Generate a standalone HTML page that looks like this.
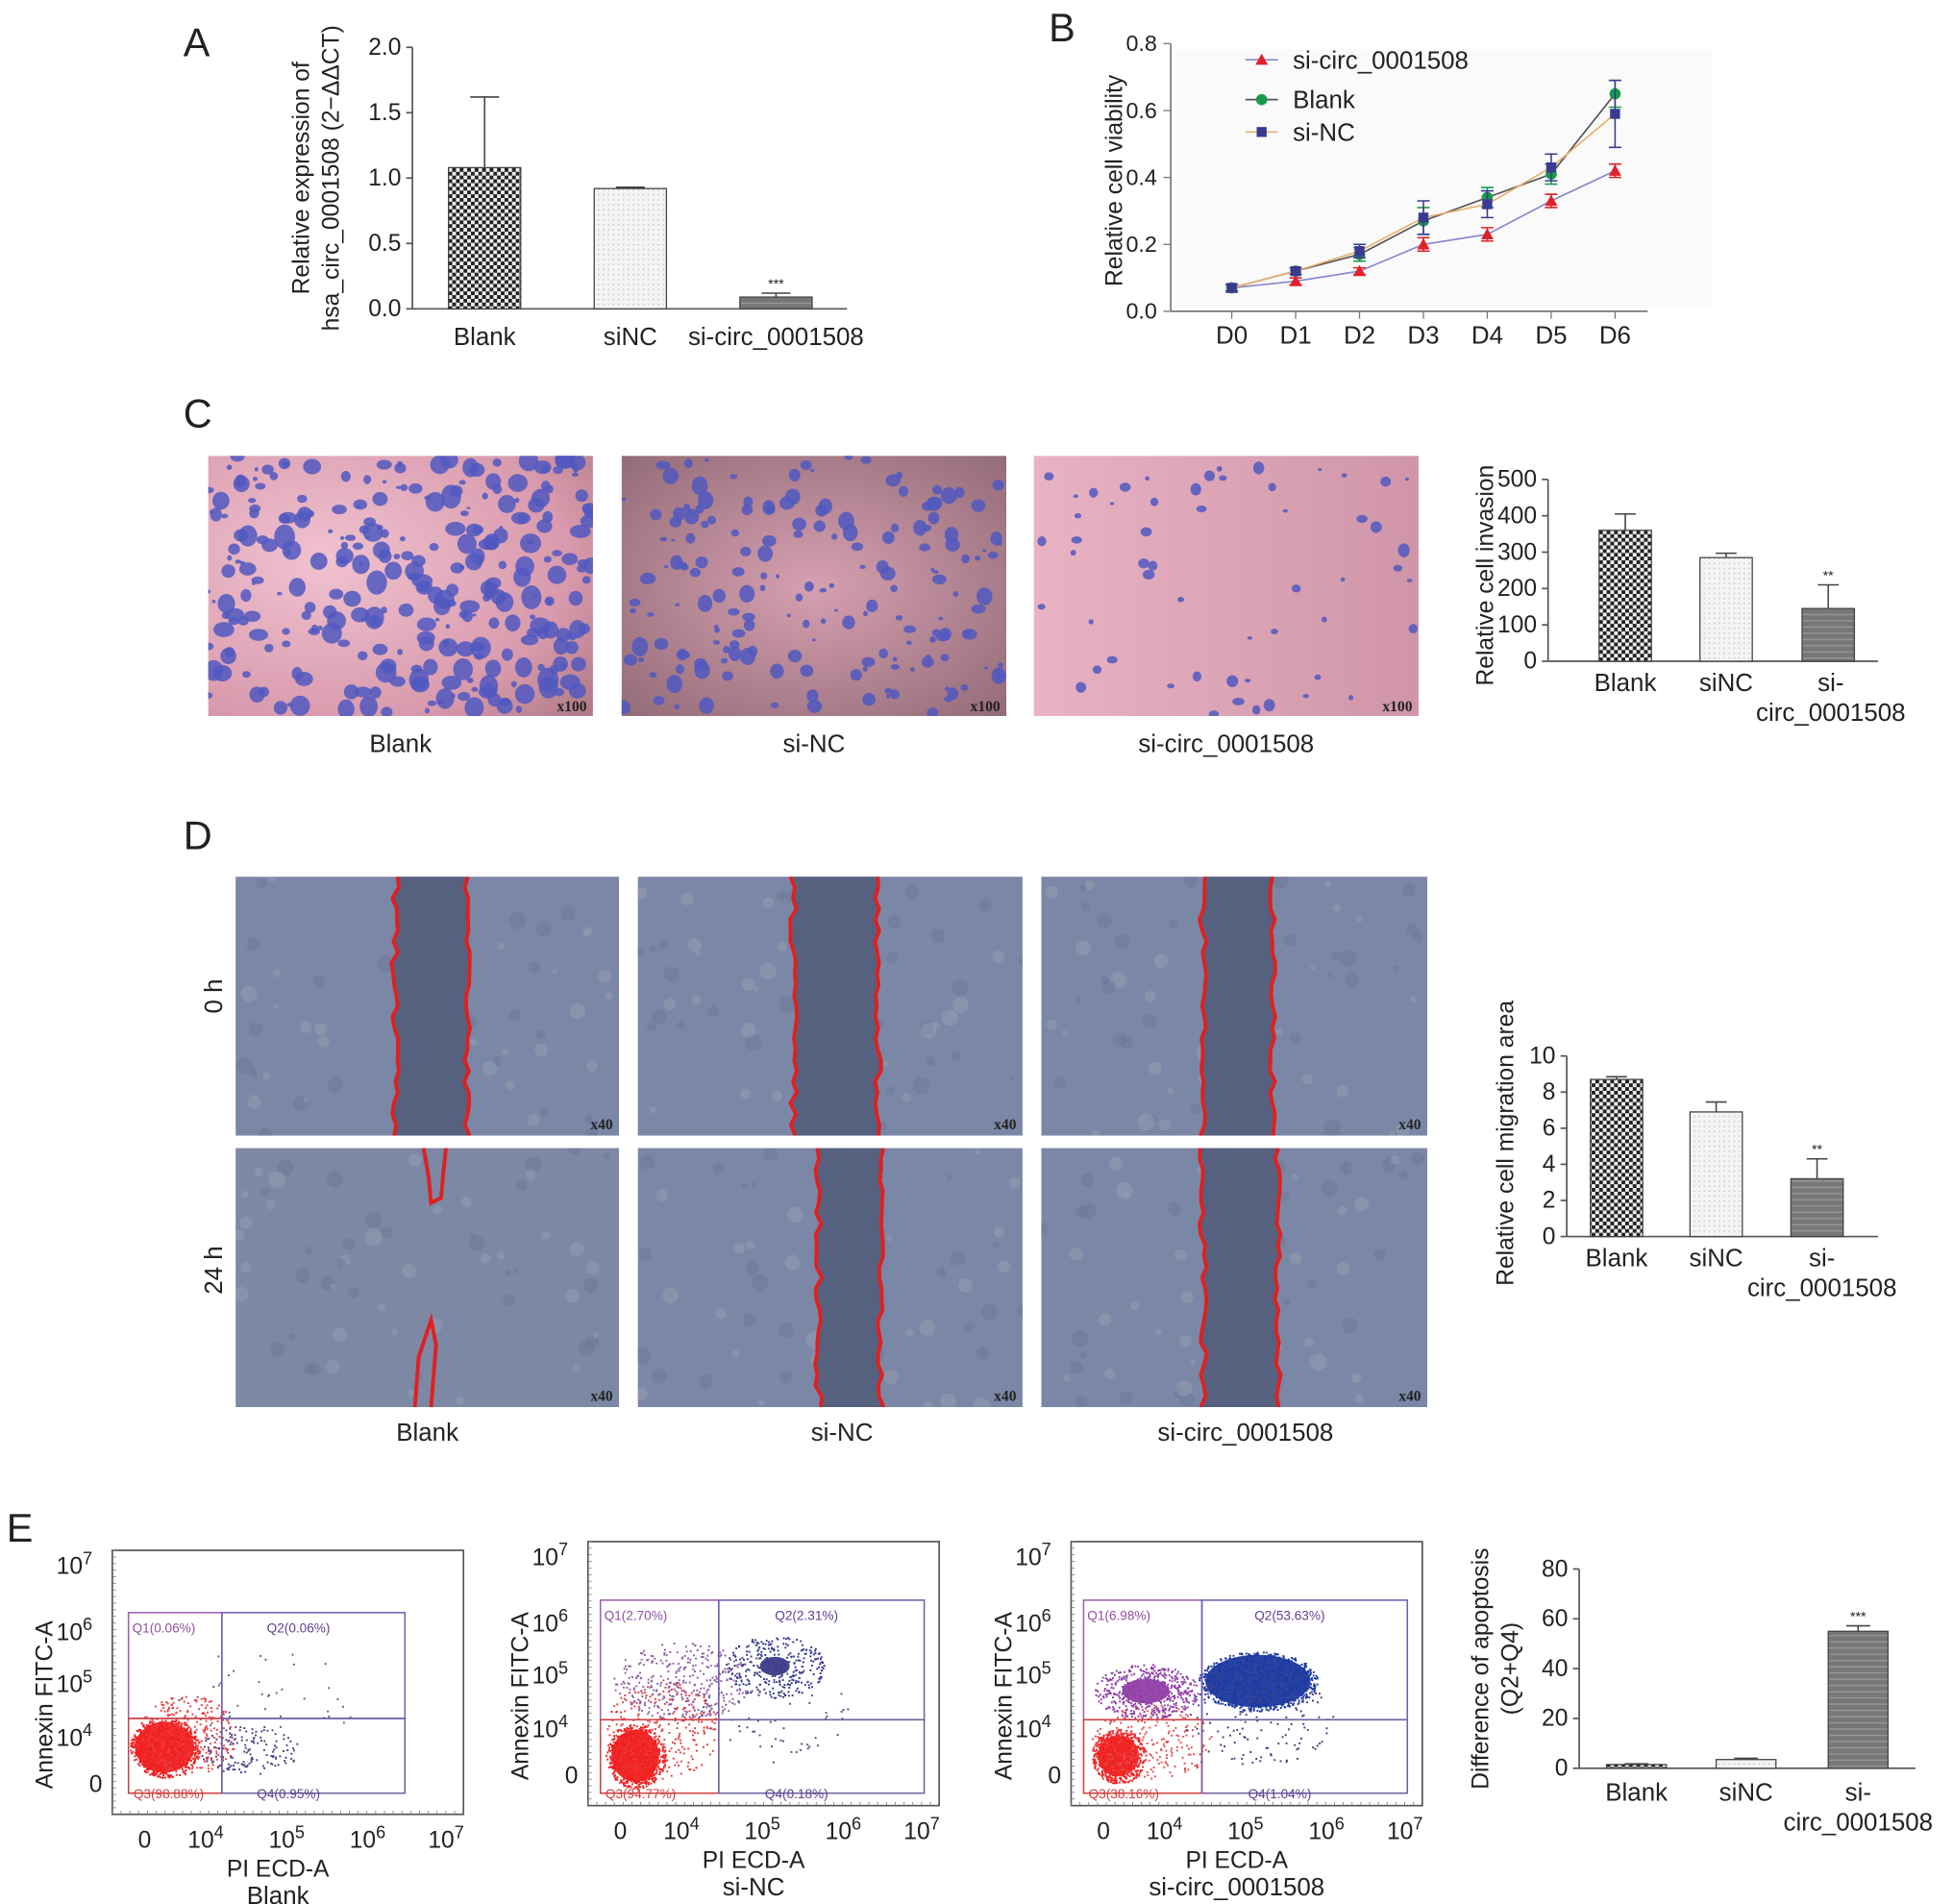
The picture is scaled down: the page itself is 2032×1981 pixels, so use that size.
<!DOCTYPE html>
<html><head><meta charset="utf-8"><style>
html,body{margin:0;padding:0;background:#fff}
svg{display:block}
text{font-family:"Liberation Sans",Arial,sans-serif;fill:#222}
</style></head><body>
<svg id="fig" xmlns="http://www.w3.org/2000/svg" width="2032" height="1981" viewBox="0 0 1568 1529">
<defs>
<pattern id="pChk" width="6" height="6" patternUnits="userSpaceOnUse"><rect width="6" height="6" fill="#eee"/><rect width="3" height="3" fill="#222"/><rect x="3" y="3" width="3" height="3" fill="#222"/></pattern>
<pattern id="pDot" width="4" height="4" patternUnits="userSpaceOnUse"><rect width="4" height="4" fill="#f4f4f4"/><rect width="1" height="1" fill="#bbb"/></pattern>
<pattern id="pGray" width="6" height="5" patternUnits="userSpaceOnUse"><rect width="6" height="5" fill="#777"/><rect y="3" width="6" height="1" fill="#999"/></pattern>
<radialGradient id="gPink" cx="0.3" cy="0.4" r="0.9"><stop offset="0" stop-color="#f0c2d0"/><stop offset="0.7" stop-color="#d89aac"/><stop offset="1" stop-color="#b07a88"/></radialGradient>
<radialGradient id="gPink2" cx="0.5" cy="0.5" r="0.8"><stop offset="0" stop-color="#d6a0b0"/><stop offset="1" stop-color="#8a6470"/></radialGradient>
<linearGradient id="gPink3" x1="0" x2="1"><stop offset="0" stop-color="#e8b3c3"/><stop offset="1" stop-color="#d095a8"/></linearGradient>
</defs>
<g id="root"></g>
</svg>
<script>
// ---------- DATA ----------
const groupsA = ["Blank","siNC","si-circ_0001508"];
const valuesA = [1.08, 0.92, 0.09];
const errA = [0.54, 0.01, 0.03];
const ticksA = [0.0,0.5,1.0,1.5,2.0];

const daysB = ["D0","D1","D2","D3","D4","D5","D6"];
const seriesNamesB = ["si-circ_0001508","Blank","si-NC"];
const siCircB = [0.07,0.09,0.12,0.20,0.23,0.33,0.42];
const blankB = [0.07,0.12,0.17,0.27,0.34,0.41,0.65];
const siNCB = [0.07,0.12,0.18,0.28,0.32,0.43,0.59];
const ticksB = [0.0,0.2,0.4,0.6,0.8];

const groupsC = ["Blank","siNC","si-\ncirc_0001508"];
const valuesC = [360, 285, 145];
const errC = [45, 12, 65];
const ticksC = [0,100,200,300,400,500];

const valuesD = [8.7, 6.9, 3.2];
const errD = [0.15, 0.55, 1.1];
const ticksD = [0,2,4,6,8,10];

const valuesE = [1.5, 3.5, 55];
const errE = [0.3, 0.5, 2.2];
const ticksE = [0,20,40,60,80];

// ---------- helpers ----------
const NS="http://www.w3.org/2000/svg";
const root=document.getElementById('root');
const defs=document.querySelector('defs');
function mk(tag,attrs,parent){const e=document.createElementNS(NS,tag);for(const k in attrs)e.setAttribute(k,attrs[k]);(parent||root).appendChild(e);return e;}
function txt(x,y,s,size,anchor,parent,extra){const t=mk('text',Object.assign({x:x,y:y,'font-size':size,'text-anchor':anchor||'middle'},extra||{}),parent);t.textContent=s;return t;}
let seed=7;function rnd(){seed=(seed*16807)%2147483647;return seed/2147483647;}
let clipN=0;function clipRect(x,y,w,h){const id='clip'+(clipN++);const c=mk('clipPath',{id:id},defs);mk('rect',{x:x,y:y,width:w,height:h},c);return 'url(#'+id+')';}

function barChart(o){
  const g=mk('g',{});
  
  
  const ys=v=>o.y0-(v-o.min)/(o.max-o.min)*(o.y0-o.y1);
  mk('line',{x1:o.ax,y1:o.y1,x2:o.ax,y2:o.y0,stroke:'#555','stroke-width':1.3},g);
  mk('line',{x1:o.ax,y1:o.y0,x2:o.axEnd,y2:o.y0,stroke:'#555','stroke-width':1.3},g);
  o.ticks.forEach(t=>{const y=ys(t);mk('line',{x1:o.ax-5,y1:y,x2:o.ax,y2:y,stroke:'#555','stroke-width':1.3},g);
    const l=txt(o.ax-9,y+6,o.tickFmt?o.tickFmt(t):String(t),o.fs,'end',g);
    
    });
  o.values.forEach((v,i)=>{
    const cx=o.cx[i],w=o.bw;
    const r=mk('rect',{x:cx-w/2,y:ys(v),width:w,height:o.y0-ys(v),fill:o.fills[i],stroke:'#444','stroke-width':1},g);
    
    
    const ye=ys(v+o.err[i]);
    const eb=mk('path',{d:`M${cx},${ys(v)}V${ye}M${cx-w*0.2},${ye}H${cx+w*0.2}`,stroke:'#444','stroke-width':1.2,fill:'none'},g);
    
    
    if(o.stars&&o.stars[i]){const s=txt(cx,ye-4,o.stars[i],11,'middle',g);}
    const lines=o.labels[i].split('\n');
    lines.forEach((ln,j)=>{const l=txt(cx+(o.labelDx?o.labelDx[i]:0),o.y0+o.labDy+j*24,ln,o.lfs,'middle',g);});
  });
  const lines=o.title.split('\n');
  lines.forEach((ln,j)=>{const tx=o.tx+j*24;const t=txt(tx,o.ty,ln,o.tfs||19,'middle',g,{transform:`rotate(-90 ${tx} ${o.ty})`});});
  return g;
}

function panelLetter(x,y,s){const t=txt(x,y,s,32,'start');}
panelLetter(147,45,'A');panelLetter(842,33,'B');panelLetter(147,343,'C');panelLetter(147,682,'D');panelLetter(5,1238,'E');

// ---------- A ----------
barChart({name:'chart-a',ax:331,axEnd:680,y0:248,y1:38,min:0,max:2,ticks:ticksA,tickFmt:t=>t.toFixed(1),fs:19,
  values:valuesA,err:errA,cx:[389,506,623],bw:58,fills:['url(#pChk)','url(#pDot)','url(#pGray)'],stars:[null,null,'***'],
  labels:groupsA,labDy:29,lfs:20,title:'Relative expression of\nhsa_circ_0001508 (2−ΔΔCT)',tx:248,ty:143,tfs:19});

// ---------- B ----------
(function(){
  const g=mk('g',{});
  
  
  mk('rect',{x:943,y:40,width:432,height:208,fill:'#fafafa'},g);
  const x0=989,dx=51.3,y0=250,y1=35;
  const xs=i=>x0+i*dx, ys=v=>y0-v/0.8*(y0-y1);
  mk('line',{x1:940,y1:y1,x2:940,y2:y0,stroke:'#777','stroke-width':1.3},g);
  mk('line',{x1:940,y1:y0,x2:1323,y2:y0,stroke:'#777','stroke-width':1.3},g);
  ticksB.forEach(t=>{mk('line',{x1:934,y1:ys(t),x2:940,y2:ys(t),stroke:'#777'},g);const l=txt(929,ys(t)+6,t.toFixed(1),18,'end',g);});
  daysB.forEach((d,i)=>{mk('line',{x1:xs(i),y1:y0,x2:xs(i),y2:y0+6,stroke:'#777'},g);const l=txt(xs(i),y0+26,d,20,'middle',g);});
  const t=txt(901,145,'Relative cell viability',19,'middle',g,{transform:'rotate(-90 901 145)'});
  const series=[[siCircB,'#8888cc','#e0202a','tri',[0.01,0.01,0.01,0.02,0.02,0.02,0.02]],[blankB,'#555','#1a9a4a','circ',[0.01,0.01,0.02,0.04,0.03,0.03,0.04]],[siNCB,'#e8b070','#3a3a90','sq',[0.01,0.01,0.02,0.05,0.04,0.04,0.1]]];
  series.forEach((s,k)=>{
    const d=s[0].map((v,i)=>(i?'L':'M')+xs(i)+','+ys(v)).join('');
    const p=mk('path',{d:d,fill:'none',stroke:s[1],'stroke-width':1.3},g);
    
    
    s[0].forEach((v,i)=>{
      const x=xs(i),y=ys(v),e=s[4][i];
      mk('path',{d:`M${x},${ys(v-e)}V${ys(v+e)}M${x-5},${ys(v+e)}H${x+5}M${x-5},${ys(v-e)}H${x+5}`,stroke:s[2],'stroke-width':1.2,fill:'none'},g);
      let m;
      if(s[3]==='tri')m=mk('path',{d:`M${x},${y-5}L${x+5},${y+4}L${x-5},${y+4}Z`,fill:s[2]},g);
      else if(s[3]==='circ')m=mk('circle',{cx:x,cy:y,r:4.5,fill:s[2]},g);
      else m=mk('rect',{x:x-4,y:y-4,width:8,height:8,fill:s[2]},g);
      
      
    });
  });
  const ly=[48,80,106];
  series.forEach((s,k)=>{
    const y=ly[k];
    const le=mk('g',{},g);
    
    
    mk('line',{x1:1000,y1:y,x2:1026,y2:y,stroke:s[1],'stroke-width':1.3},le);
    if(s[3]==='tri')mk('path',{d:`M1013,${y-5}L1018,${y+4}L1008,${y+4}Z`,fill:s[2]},le);
    else if(s[3]==='circ')mk('circle',{cx:1013,cy:y,r:4.5,fill:s[2]},le);
    else mk('rect',{x:1009,y:y-4,width:8,height:8,fill:s[2]},le);
    txt(1038,y+7,seriesNamesB[k],20,'start',le);
  });
})();

// ---------- C images ----------
function transwell(x,y,w,h,n,fill,big,name,label){
  const g=mk('g',{'clip-path':clipRect(x,y,w,h)});
  
  
  mk('rect',{x:x,y:y,width:w,height:h,fill:fill},g);
  for(let i=0;i<n;i++){const bx=x+rnd()*w,by=y+rnd()*h,r=1.5+rnd()*big;
    mk('ellipse',{cx:bx,cy:by,rx:r,ry:r*(0.6+rnd()*0.6),fill:'#5058c0',opacity:0.85},g);}
  txt(x+w-5,y+h-4,'x100',12,'end',g,{style:'font-family:"Liberation Serif",serif;font-weight:bold'});
  const l=txt(x+w/2,y+h+29,label,20,'middle');
}
transwell(167,366,309,209,300,'url(#gPink)',7,'invasion-image-blank','Blank');
transwell(499,366,309,209,180,'url(#gPink2)',5,'invasion-image-si-nc','si-NC');
transwell(830,366,309,209,55,'url(#gPink3)',3.5,'invasion-image-si-circ','si-circ_0001508');

barChart({name:'chart-c',ax:1243,axEnd:1508,y0:531,y1:385,min:0,max:500,ticks:ticksC,fs:19,
  values:valuesC,err:errC,cx:[1305,1386,1468],bw:42,fills:['url(#pChk)','url(#pDot)','url(#pGray)'],stars:[null,null,'**'],
  labels:groupsC,labelDx:[0,0,2],labDy:24,lfs:20,title:'Relative cell invasion',tx:1199,ty:462});

// ---------- D images ----------
function wound(x,y,w,h,gx,gw,name){
  const g=mk('g',{'clip-path':clipRect(x,y,w,h)});
  
  
  mk('rect',{x:x,y:y,width:w,height:h,fill:'#7b87a6'},g);
  for(let i=0;i<60;i++){mk('circle',{cx:x+rnd()*w,cy:y+rnd()*h,r:2+rnd()*5,fill:rnd()>0.5?'#98a2b4':'#6a7594',opacity:0.45},g);}
  let L=[],R=[];for(let k=0;k<=24;k++){const yy=y+k*h/24;L.push([x+gx+(rnd()-0.5)*6,yy]);R.push([x+gx+gw+(rnd()-0.5)*5,yy]);}
  mk('path',{d:'M'+L.map(p=>p.join(',')).join('L')+'L'+R.slice().reverse().map(p=>p.join(',')).join('L')+'Z',fill:'#56617f'},g);
  mk('path',{d:'M'+L.map(p=>p.join(',')).join('L'),fill:'none',stroke:'#e02020','stroke-width':3},g);
  mk('path',{d:'M'+R.map(p=>p.join(',')).join('L'),fill:'none',stroke:'#e02020','stroke-width':3},g);
  txt(x+w-5,y+h-5,'x40',12,'end',g,{style:'font-family:"Liberation Serif",serif;font-weight:bold'});
}
wound(189,704,308,208,128,58,'wound-0h-blank');
wound(512,704,309,208,125,68,'wound-0h-si-nc');
wound(836,704,310,208,130,56,'wound-0h-si-circ');
(function(){const g=mk('g',{'clip-path':clipRect(189,922,308,208)});
 mk('rect',{x:189,y:922,width:308,height:208,fill:'#7d88a4'},g);
 for(let i=0;i<60;i++){mk('circle',{cx:189+rnd()*308,cy:922+rnd()*208,r:2+rnd()*5,fill:rnd()>0.5?'#98a2b4':'#6a7594',opacity:0.45},g);}
 mk('path',{d:'M340,922L344,945L346,966L354,962L356,940L358,922',fill:'none',stroke:'#e02020','stroke-width':3},g);
 mk('path',{d:'M333,1130L336,1090L346,1060L350,1080L346,1130',fill:'none',stroke:'#e02020','stroke-width':3},g);
 txt(492,1125,'x40',12,'end',g,{style:'font-family:"Liberation Serif",serif;font-weight:bold'});})();
wound(512,922,309,208,145,50,'wound-24h-si-nc');
wound(836,922,310,208,130,60,'wound-24h-si-circ');
[['0 h',800],['24 h',1020]].forEach(a=>{const t=txt(178,a[1],a[0],20,'middle',null,{transform:`rotate(-90 178 ${a[1]})`});});
[['Blank',343],['si-NC',676],['si-circ_0001508',1000]].forEach(a=>{const t=txt(a[1],1157,a[0],20,'middle');});

barChart({name:'chart-d',ax:1258,axEnd:1508,y0:993,y1:848,min:0,max:10,ticks:ticksD,fs:19,
  values:valuesD,err:errD,cx:[1298,1378,1459],bw:42,fills:['url(#pChk)','url(#pDot)','url(#pGray)'],stars:[null,null,'**'],
  labels:groupsC,labelDx:[0,0,4],labDy:24,lfs:20,title:'Relative cell migration area',tx:1215,ty:918});

// ---------- E flow plots ----------
function flow(ox,oy,cfg){
  const g=mk('g',{});
  
  
  const W=282,H=212;
  mk('rect',{x:ox,y:oy,width:W,height:H,fill:'#fff',stroke:'#555','stroke-width':1.3},g);
  const xt=[26,75,140,205,268],yt=[12,65,107,150,187];
  const xl=['0','10','10','10','10'],ex=['','4','5','6','7'];
  xt.forEach((t,i)=>{const l=mk('text',{x:ox+t,y:oy+H+27,'font-size':19,'text-anchor':'middle'},g);l.textContent=xl[i];if(ex[i]){const s=mk('tspan',{dy:-8,'font-size':14},l);s.textContent=ex[i];}});
  const yl=['10','10','10','10','0'],ey=['7','6','5','4',''];
  yt.forEach((t,i)=>{const l=mk('text',{x:ox-(ey[i]?16:8),y:oy+t+7,'font-size':19,'text-anchor':'end'},g);l.textContent=yl[i];if(ey[i]){const s=mk('tspan',{dy:-8,'font-size':14},l);s.textContent=ey[i];}});
  for(let k=0;k<40;k++){mk('line',{x1:ox,y1:oy+k*H/40,x2:ox+3,y2:oy+k*H/40,stroke:'#777','stroke-width':0.6},g);mk('line',{x1:ox+k*W/40,y1:oy+H,x2:ox+k*W/40,y2:oy+H-3,stroke:'#777','stroke-width':0.6},g);}
  txt(ox+W/2-8,oy+H+50,'PI ECD-A',19,'middle',g);
  txt(ox+W/2-8,oy+H+72,cfg.label,20,'middle',g);
  const tx=ox-48,ty=oy+H/2+18;txt(tx,ty,'Annexin FITC-A',19,'middle',g,{transform:`rotate(-90 ${tx} ${ty})`});
  const c=cfg.gate;
  cfg.clouds.forEach(cl=>{for(let i=0;i<cl[5];i++){const a=rnd()*6.283,r=Math.sqrt(rnd());mk('rect',{x:ox+cl[0]+Math.cos(a)*r*cl[2],y:oy+cl[1]+Math.sin(a)*r*cl[3],width:1.5,height:1.5,fill:cl[4]},g);}
    if(cl[6])mk('ellipse',{cx:ox+cl[0],cy:oy+cl[1],rx:cl[2]*cl[6],ry:cl[3]*cl[6],fill:cl[4],opacity:0.95},g);});
  mk('rect',{x:ox+c.l,y:oy+c.t,width:c.v-c.l,height:c.h-c.t,fill:'none',stroke:'#a060b0','stroke-width':1.2},g);
  mk('rect',{x:ox+c.v,y:oy+c.t,width:c.r-c.v,height:c.h-c.t,fill:'none',stroke:'#7060b0','stroke-width':1.2},g);
  mk('rect',{x:ox+c.l,y:oy+c.h,width:c.v-c.l,height:c.b-c.h,fill:'none',stroke:'#d04040','stroke-width':1.2},g);
  mk('rect',{x:ox+c.v,y:oy+c.h,width:c.r-c.v,height:c.b-c.h,fill:'none',stroke:'#7060a0','stroke-width':1.2},g);
  const q=cfg.q;
  txt(ox+c.l+3,oy+c.t+16,q[0],10.5,'start',g,{style:'fill:#9050a0'});
  txt(ox+(c.v+c.r)/2-12,oy+c.t+16,q[1],10.5,'middle',g,{style:'fill:#604090'});
  txt(ox+c.l+4,oy+c.b+4,q[2],10.5,'start',g,{style:'fill:#d04040'});
  txt(ox+(c.v+c.r)/2-20,oy+c.b+4,q[3],10.5,'middle',g,{style:'fill:#604090'});
}
flow(90,1245,{name:'flow-plot-blank',label:'Blank',gate:{l:13,v:88,r:235,t:50,h:135,b:195},q:['Q1(0.06%)','Q2(0.06%)','Q3(98.88%)','Q4(0.95%)'],
  clouds:[[42,158,28,24,'#f02020',700,0.85],[60,148,40,32,'#e84040',300,0],[110,160,40,20,'#504080',150,0],[120,120,80,40,'#606080',40,0]]});
flow(472,1238,{name:'flow-plot-si-nc',label:'si-NC',gate:{l:10,v:105,r:270,t:47,h:143,b:202},q:['Q1(2.70%)','Q2(2.31%)','Q3(94.77%)','Q4(0.18%)'],
  clouds:[[38,172,24,26,'#f02020',600,0.8],[60,150,45,40,'#e04040',250,0],[75,112,55,32,'#9060a0',350,0],[150,100,40,25,'#3a3a88',300,0.3],[150,140,60,40,'#505080',60,0]]});
flow(860,1238,{name:'flow-plot-si-circ',label:'si-circ_0001508',gate:{l:10,v:105,r:270,t:47,h:143,b:202},q:['Q1(6.98%)','Q2(53.63%)','Q3(38.16%)','Q4(1.04%)'],
  clouds:[[38,172,22,22,'#f02020',500,0.75],[65,160,50,30,'#e05050',250,0],[60,120,42,22,'#9040a8',500,0.45],[150,112,48,24,'#1e3aa0',1000,0.88],[150,140,60,40,'#404080',150,0]]});

barChart({name:'chart-e',ax:1268,axEnd:1538,y0:1420,y1:1260,min:0,max:80,ticks:ticksE,fs:19,
  values:valuesE,err:errE,cx:[1314,1402,1492],bw:48,fills:['url(#pChk)','url(#pDot)','url(#pGray)'],stars:[null,null,'***'],
  labels:groupsC,labelDx:[0,0,0],labDy:26,lfs:20,title:'Difference of apoptosis\n(Q2+Q4)',tx:1195,ty:1340});
</script>
</body></html>
